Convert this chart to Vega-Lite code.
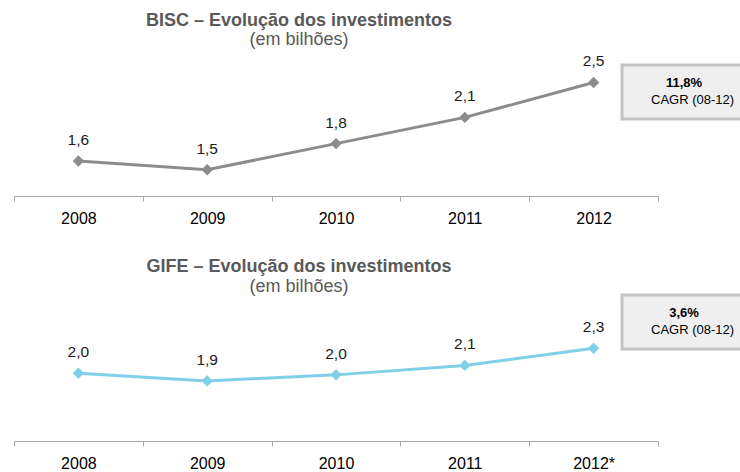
{
  "$schema": "https://vega.github.io/schema/vega-lite/v6.json",
  "padding": {"left": 13, "top": 11, "right": 0, "bottom": 0},
  "background": "white",
  "config": {
    "font": "Liberation Sans",
    "view": {"stroke": null},
    "concat": {"spacing": 32},
    "axisX": {
      "tickBand": "extent",
      "domainColor": "#a6a6a6",
      "tickColor": "#a6a6a6",
      "tickSize": 5,
      "labelFontSize": 16,
      "labelColor": "#000000",
      "labelPadding": 9,
      "labelAngle": 0,
      "grid": false,
      "title": null
    },
    "legend": {
      "orient": "right",
      "offset": -36,
      "padding": 12,
      "fillColor": "#efefef",
      "strokeColor": "#c4c4c4",
      "titleFontSize": 13,
      "titleFontWeight": "bold",
      "titleColor": "#000000",
      "titleAnchor": "middle",
      "titleAlign": "center",
      "titlePadding": 3,
      "labelFontSize": 13,
      "labelColor": "#000000",
      "symbolSize": 0,
      "symbolStrokeWidth": 0
    },
    "title": {
      "fontSize": 18,
      "fontWeight": "bold",
      "color": "#595959",
      "subtitleFontSize": 18,
      "subtitleColor": "#595959",
      "subtitlePadding": 1.5,
      "frame": "group",
      "anchor": "middle",
      "dx": -37
    }
  },
  "datasets": {
    "bisc": [
      {"year": "2008", "value": 1.6, "label": "1,6"},
      {"year": "2009", "value": 1.5, "label": "1,5"},
      {"year": "2010", "value": 1.8, "label": "1,8"},
      {"year": "2011", "value": 2.1, "label": "2,1"},
      {"year": "2012", "value": 2.5, "label": "2,5"}
    ],
    "gife": [
      {"year": "2008", "value": 1.99, "label": "2,0"},
      {"year": "2009", "value": 1.9, "label": "1,9"},
      {"year": "2010", "value": 1.97, "label": "2,0"},
      {"year": "2011", "value": 2.08, "label": "2,1"},
      {"year": "2012*", "value": 2.28, "label": "2,3"}
    ]
  },
  "vconcat": [
    {
      "width": 644,
      "height": 131,
      "title": {"text": "BISC – Evolução dos investimentos", "subtitle": "(em bilhões)", "offset": 5},
      "data": {"name": "bisc"},
      "encoding": {
        "x": {"field": "year", "type": "nominal", "sort": null, "scale": {"type": "band", "paddingInner": 0, "paddingOuter": 0}},
        "y": {"field": "value", "type": "quantitative", "scale": {"domain": [1.2, 2.7], "zero": false, "nice": false}, "axis": null}
      },
      "layer": [
        {
          "mark": {"type": "line", "strokeWidth": 3},
          "encoding": {
            "color": {
              "datum": "CAGR (08-12)",
              "type": "nominal",
              "scale": {"range": ["#8c8c8c"]},
              "legend": {"title": "11,8%", "encode": {"legend": {"update": {"strokeWidth": {"value": 3}}}}}
            }
          }
        },
        {"mark": {"type": "point", "shape": "diamond", "filled": true, "size": 130, "color": "#8c8c8c", "opacity": 1}},
        {"mark": {"type": "text", "dy": -21, "fontSize": 15.5, "color": "#1a1a1a"}, "encoding": {"text": {"field": "label"}}}
      ]
    },
    {
      "width": 644,
      "height": 146,
      "title": {"text": "GIFE – Evolução dos investimentos", "subtitle": "(em bilhões)", "offset": -2},
      "data": {"name": "gife"},
      "encoding": {
        "x": {"field": "year", "type": "nominal", "sort": null, "scale": {"type": "band", "paddingInner": 0, "paddingOuter": 0}},
        "y": {"field": "value", "type": "quantitative", "scale": {"domain": [1.2, 2.9], "zero": false, "nice": false}, "axis": null}
      },
      "layer": [
        {
          "mark": {"type": "line", "strokeWidth": 3},
          "encoding": {
            "color": {
              "datum": "CAGR (08-12)",
              "type": "nominal",
              "scale": {"range": ["#7fcfe9"]},
              "legend": {"title": "3,6%", "encode": {"legend": {"update": {"strokeWidth": {"value": 3}}}}}
            }
          }
        },
        {"mark": {"type": "point", "shape": "diamond", "filled": true, "size": 130, "color": "#7fcfe9", "opacity": 1}},
        {"mark": {"type": "text", "dy": -21, "fontSize": 15.5, "color": "#1a1a1a"}, "encoding": {"text": {"field": "label"}}}
      ]
    }
  ],
  "resolve": {"scale": {"color": "independent"}, "legend": {"color": "independent"}}
}
